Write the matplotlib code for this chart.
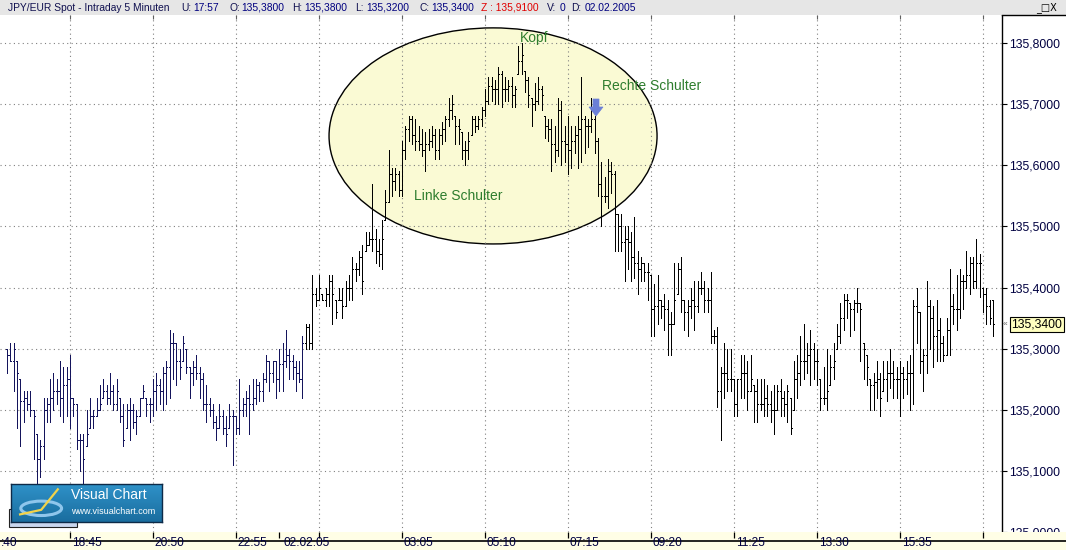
"""
JPY/EUR Spot, Intraday 5 Minuten (01./02.02.2005) - Kopf-Schulter-Formation
Nachbau des Visual-Chart-Screenshots mit Matplotlib
"""

import numpy as np
import matplotlib
matplotlib.use('Agg')
import matplotlib.pyplot as plt
from matplotlib.collections import LineCollection
from matplotlib.patches import Rectangle, Ellipse, Polygon
from matplotlib import transforms

plt.rcParams['font.family'] = ['Liberation Sans', 'DejaVu Sans']

# ---------------------------------------------------------------- data
first_bar = '17:10'          # erster Balken am 01.02.2005
bar_minutes = 5

highs = [
    135.30, 135.31, 135.31, 135.28, 135.25, 135.23, 135.23, 135.23, 135.20, 135.16,
    135.15, 135.22, 135.22, 135.25, 135.26, 135.25, 135.28, 135.27, 135.27, 135.29,
    135.22, 135.21, 135.16, 135.16, 135.20, 135.22, 135.20, 135.22, 135.24, 135.25,
    135.24, 135.26, 135.24, 135.25, 135.22, 135.21, 135.21, 135.22, 135.21,
    135.20, 135.22, 135.24, 135.22, 135.22, 135.25, 135.26, 135.25, 135.27, 135.28,
    135.33, 135.325, 135.31, 135.30, 135.32, 135.30, 135.27, 135.28, 135.29, 135.27,
    135.26, 135.24, 135.22, 135.21, 135.19, 135.21, 135.20, 135.19, 135.21, 135.20,
    135.19, 135.25, 135.22, 135.23, 135.24, 135.25, 135.25,
    135.245, 135.26, 135.29, 135.28, 135.28, 135.28, 135.30, 135.31, 135.33, 135.30,
    135.29, 135.28, 135.28, 135.32, 135.34, 135.34, 135.42, 135.40, 135.42, 135.39,
    135.40, 135.42, 135.42, 135.38, 135.40, 135.40, 135.41, 135.42, 135.45, 135.44,
    135.46, 135.47, 135.49, 135.49, 135.57, 135.495, 135.48, 135.51,
    135.56, 135.625, 135.595, 135.595, 135.59, 135.64, 135.665, 135.68, 135.68, 135.675,
    135.665, 135.66, 135.655, 135.66, 135.665, 135.66, 135.66, 135.67, 135.68, 135.71,
    135.715, 135.68, 135.675, 135.655, 135.64, 135.655, 135.68, 135.68, 135.68, 135.695,
    135.725, 135.745, 135.745, 135.74, 135.76, 135.755,
    135.745, 135.74, 135.745, 135.73, 135.795, 135.80, 135.755, 135.745, 135.71, 135.735,
    135.745, 135.73, 135.68, 135.675, 135.675, 135.665, 135.71, 135.705, 135.665, 135.68,
    135.665, 135.665, 135.68, 135.745, 135.68, 135.675, 135.71, 135.68, 135.645, 135.605,
    135.58, 135.61, 135.605, 135.59, 135.52,
    135.52, 135.50, 135.50, 135.49, 135.515, 135.46, 135.45, 135.44, 135.44, 135.42,
    135.405, 135.42, 135.38, 135.39, 135.38, 135.36, 135.44, 135.44, 135.45, 135.38,
    135.38, 135.40, 135.41, 135.41, 135.425, 135.41, 135.40, 135.425, 135.33, 135.335,
    135.27, 135.31, 135.30, 135.30, 135.25, 135.25, 135.29, 135.29, 135.28, 135.29,
    135.24, 135.25, 135.25, 135.25, 135.24, 135.23, 135.24, 135.24, 135.25, 135.23,
    135.24, 135.22, 135.28, 135.29, 135.32, 135.34, 135.31, 135.33, 135.31, 135.30,
    135.25, 135.27, 135.30, 135.29, 135.31, 135.34, 135.375, 135.39, 135.39, 135.375,
    135.38, 135.40, 135.375, 135.31, 135.29, 135.25,
    135.26, 135.28, 135.26, 135.28, 135.28, 135.30, 135.28, 135.27, 135.28, 135.27,
    135.28, 135.29, 135.38, 135.40, 135.36, 135.30, 135.41, 135.38, 135.37, 135.38,
    135.35, 135.32, 135.35, 135.43, 135.39, 135.42, 135.43, 135.42, 135.46, 135.45,
    135.45, 135.48, 135.455, 135.40, 135.40, 135.38, 135.38,
]

lows = [
    135.26, 135.28, 135.23, 135.17, 135.14, 135.18, 135.20, 135.19, 135.12, 135.08,
    135.09, 135.12, 135.18, 135.18, 135.20, 135.21, 135.19, 135.18, 135.19, 135.17,
    135.19, 135.135, 135.10, 135.08, 135.14, 135.17, 135.17, 135.19, 135.20, 135.22,
    135.21, 135.21, 135.20, 135.20, 135.18, 135.14, 135.17, 135.15, 135.17,
    135.16, 135.19, 135.22, 135.19, 135.18, 135.19, 135.20, 135.21, 135.20, 135.21,
    135.22, 135.25, 135.24, 135.25, 135.28, 135.26, 135.22, 135.24, 135.25, 135.22,
    135.20, 135.18, 135.19, 135.17, 135.15, 135.17, 135.16, 135.14, 135.17, 135.11,
    135.16, 135.16, 135.19, 135.19, 135.16, 135.20, 135.21,
    135.215, 135.215, 135.245, 135.23, 135.245, 135.22, 135.23, 135.23, 135.27, 135.25,
    135.25, 135.23, 135.245, 135.22, 135.30, 135.30, 135.30, 135.37, 135.38, 135.38,
    135.37, 135.37, 135.34, 135.35, 135.38, 135.35, 135.37, 135.38, 135.38, 135.41,
    135.42, 135.39, 135.46, 135.47, 135.46, 135.44, 135.435, 135.43,
    135.51, 135.54, 135.55, 135.56, 135.55, 135.55, 135.61, 135.64, 135.635, 135.625,
    135.625, 135.615, 135.59, 135.625, 135.63, 135.61, 135.61, 135.635, 135.64, 135.665,
    135.675, 135.635, 135.635, 135.61, 135.60, 135.61, 135.65, 135.655, 135.66, 135.665,
    135.68, 135.70, 135.705, 135.70, 135.70, 135.695,
    135.705, 135.705, 135.695, 135.695, 135.75, 135.75, 135.72, 135.695, 135.665, 135.69,
    135.70, 135.69, 135.645, 135.64, 135.59, 135.605, 135.615, 135.60, 135.605, 135.585,
    135.595, 135.62, 135.595, 135.605, 135.62, 135.63, 135.655, 135.62, 135.55, 135.50,
    135.54, 135.53, 135.555, 135.46, 135.46,
    135.46, 135.41, 135.43, 135.41, 135.415, 135.39, 135.41, 135.41, 135.38, 135.32,
    135.32, 135.34, 135.35, 135.33, 135.29, 135.29, 135.34, 135.39, 135.36, 135.33,
    135.32, 135.35, 135.33, 135.36, 135.39, 135.36, 135.36, 135.31, 135.31, 135.205,
    135.15, 135.22, 135.23, 135.23, 135.19, 135.19, 135.22, 135.22, 135.20, 135.23,
    135.18, 135.18, 135.20, 135.19, 135.19, 135.18, 135.16, 135.20, 135.19, 135.19,
    135.18, 135.16, 135.20, 135.22, 135.24, 135.25, 135.26, 135.24, 135.25, 135.24,
    135.20, 135.21, 135.20, 135.24, 135.25, 135.30, 135.31, 135.33, 135.35, 135.32,
    135.33, 135.36, 135.28, 135.25, 135.24, 135.20,
    135.20, 135.22, 135.19, 135.23, 135.215, 135.235, 135.22, 135.22, 135.19, 135.22,
    135.225, 135.20, 135.21, 135.31, 135.26, 135.23, 135.26, 135.30, 135.27, 135.28,
    135.28, 135.28, 135.29, 135.29, 135.34, 135.33, 135.35, 135.365, 135.40, 135.39,
    135.40, 135.40, 135.385, 135.36, 135.34, 135.34, 135.32,
]

opens = [
    135.30, 135.29, 135.28, 135.30, 135.26, 135.215, 135.22, 135.21, 135.20, 135.19,
    135.12, 135.14, 135.20, 135.21, 135.22, 135.23, 135.23, 135.22, 135.24, 135.25,
    135.22, 135.21, 135.15, 135.15, 135.12, 135.16, 135.19, 135.19, 135.20, 135.21,
    135.23, 135.22, 135.23, 135.21, 135.23, 135.19, 135.15, 135.20, 135.20,
    135.18, 135.19, 135.22, 135.23, 135.21, 135.21, 135.23, 135.24, 135.23, 135.26,
    135.27, 135.31, 135.31, 135.28, 135.27, 135.31, 135.27, 135.26, 135.27, 135.26,
    135.25, 135.21, 135.21, 135.20, 135.18, 135.17, 135.19, 135.17, 135.16, 135.19,
    135.19, 135.17, 135.20, 135.21, 135.22, 135.21, 135.22,
    135.24, 135.23, 135.25, 135.28, 135.26, 135.28, 135.25, 135.275, 135.28, 135.29,
    135.28, 135.27, 135.26, 135.25, 135.31, 135.335, 135.31, 135.39, 135.38, 135.40,
    135.38, 135.39, 135.41, 135.39, 135.36, 135.38, 135.37, 135.40, 135.40, 135.43,
    135.43, 135.45, 135.41, 135.47, 135.48, 135.48, 135.46, 135.455,
    135.48, 135.54, 135.585, 135.575, 135.585, 135.56, 135.625, 135.66, 135.675, 135.65,
    135.64, 135.635, 135.625, 135.635, 135.64, 135.65, 135.625, 135.65, 135.66, 135.675,
    135.69, 135.70, 135.665, 135.66, 135.625, 135.625, 135.64, 135.675, 135.665, 135.675,
    135.69, 135.705, 135.73, 135.725, 135.725, 135.75,
    135.725, 135.725, 135.73, 135.715, 135.725, 135.77, 135.78, 135.74, 135.715, 135.70,
    135.705, 135.725, 135.715, 135.665, 135.66, 135.635, 135.625, 135.69, 135.64, 135.635,
    135.625, 135.64, 135.65, 135.66, 135.675, 135.665, 135.665, 135.675, 135.64, 135.57,
    135.55, 135.55, 135.59, 135.585, 135.52,
    135.50, 135.475, 135.48, 135.475, 135.45, 135.44, 135.43, 135.44, 135.425, 135.425,
    135.365, 135.37, 135.38, 135.37, 135.365, 135.34, 135.34, 135.38, 135.43, 135.38,
    135.36, 135.37, 135.38, 135.37, 135.40, 135.40, 135.38, 135.38, 135.32, 135.32,
    135.23, 135.26, 135.26, 135.25, 135.25, 135.21, 135.25, 135.26, 135.26, 135.23,
    135.25, 135.23, 135.21, 135.21, 135.22, 135.21, 135.20, 135.20, 135.23, 135.22,
    135.21, 135.23, 135.17, 135.25, 135.26, 135.28, 135.28, 135.29, 135.30, 135.28,
    135.28, 135.22, 135.22, 135.23, 135.27, 135.28, 135.32, 135.35, 135.38, 135.38,
    135.365, 135.375, 135.375, 135.365, 135.30, 135.27,
    135.24, 135.245, 135.25, 135.22, 135.25, 135.26, 135.26, 135.25, 135.25, 135.26,
    135.25, 135.26, 135.26, 135.37, 135.36, 135.28, 135.29, 135.37, 135.35, 135.32,
    135.33, 135.31, 135.29, 135.33, 135.37, 135.365, 135.365, 135.41, 135.41, 135.42,
    135.44, 135.41, 135.44, 135.44, 135.39, 135.37, 135.38,
]

closes = [
    135.29, 135.28, 135.30, 135.26, 135.215, 135.22, 135.21, 135.20, 135.19, 135.12,
    135.14, 135.20, 135.21, 135.22, 135.23, 135.23, 135.22, 135.24, 135.25, 135.22,
    135.21, 135.15, 135.15, 135.12, 135.16, 135.19, 135.19, 135.20, 135.21, 135.23,
    135.22, 135.23, 135.21, 135.23, 135.19, 135.15, 135.20, 135.20, 135.18,
    135.19, 135.22, 135.23, 135.21, 135.21, 135.23, 135.24, 135.23, 135.26, 135.27,
    135.31, 135.31, 135.28, 135.27, 135.31, 135.27, 135.26, 135.27, 135.26, 135.25,
    135.21, 135.21, 135.20, 135.18, 135.17, 135.19, 135.17, 135.16, 135.19, 135.19,
    135.17, 135.20, 135.21, 135.22, 135.21, 135.22, 135.24,
    135.23, 135.25, 135.28, 135.26, 135.28, 135.25, 135.275, 135.28, 135.29, 135.28,
    135.27, 135.26, 135.25, 135.31, 135.335, 135.31, 135.39, 135.38, 135.40, 135.38,
    135.39, 135.41, 135.39, 135.36, 135.38, 135.37, 135.40, 135.40, 135.43, 135.43,
    135.45, 135.41, 135.47, 135.48, 135.48, 135.46, 135.455, 135.48,
    135.54, 135.585, 135.575, 135.585, 135.56, 135.625, 135.66, 135.675, 135.65, 135.64,
    135.635, 135.625, 135.635, 135.64, 135.65, 135.625, 135.65, 135.66, 135.675, 135.69,
    135.70, 135.665, 135.66, 135.625, 135.625, 135.64, 135.675, 135.665, 135.675, 135.69,
    135.705, 135.73, 135.725, 135.725, 135.75, 135.725,
    135.725, 135.73, 135.715, 135.725, 135.77, 135.78, 135.74, 135.715, 135.70, 135.705,
    135.725, 135.715, 135.665, 135.66, 135.635, 135.625, 135.69, 135.64, 135.635, 135.625,
    135.64, 135.65, 135.66, 135.675, 135.665, 135.665, 135.675, 135.64, 135.57, 135.55,
    135.55, 135.59, 135.585, 135.52, 135.50,
    135.475, 135.48, 135.475, 135.45, 135.44, 135.43, 135.44, 135.425, 135.425, 135.365,
    135.37, 135.38, 135.37, 135.365, 135.34, 135.34, 135.38, 135.43, 135.38, 135.36,
    135.37, 135.38, 135.37, 135.40, 135.40, 135.38, 135.38, 135.32, 135.32, 135.23,
    135.26, 135.26, 135.25, 135.25, 135.21, 135.25, 135.26, 135.26, 135.23, 135.25,
    135.23, 135.21, 135.21, 135.22, 135.21, 135.20, 135.20, 135.23, 135.22, 135.21,
    135.23, 135.17, 135.25, 135.26, 135.28, 135.28, 135.29, 135.30, 135.28, 135.28,
    135.22, 135.22, 135.23, 135.27, 135.28, 135.32, 135.35, 135.38, 135.38, 135.365,
    135.375, 135.375, 135.365, 135.30, 135.27, 135.24,
    135.245, 135.25, 135.22, 135.25, 135.26, 135.26, 135.25, 135.25, 135.26, 135.25,
    135.26, 135.26, 135.37, 135.36, 135.28, 135.29, 135.37, 135.35, 135.32, 135.33,
    135.31, 135.29, 135.33, 135.37, 135.365, 135.365, 135.41, 135.41, 135.42, 135.44,
    135.41, 135.44, 135.44, 135.39, 135.37, 135.35, 135.34,
]

# Zeitachse: (Tag, Uhrzeit), Tag 0 = 01.02.2005, Tag 1 = 02.02.2005
grid_times = [(0, '16:40'), (0, '18:45'), (0, '20:50'), (0, '22:55'), (1, '01:00'),
              (1, '03:05'), (1, '05:10'), (1, '07:15'), (1, '09:20'), (1, '11:25'),
              (1, '13:30'), (1, '15:35'), (1, '17:40')]
label_times = [(0, '18:45'), (0, '20:50'), (0, '22:55'),
               (1, '03:05'), (1, '05:10'), (1, '07:15'), (1, '09:20'), (1, '11:25'),
               (1, '13:30'), (1, '15:35')]
cut_label = ':40'            # Rest von "16:40" am linken Rand
date_mark = (1, '00:00')
date_label = '02.02.05'

price_ticks = [135.0, 135.1, 135.2, 135.3, 135.4, 135.5, 135.6, 135.7, 135.8]
last_price = 135.34

header = [
    ('JPY/EUR Spot - Intraday 5 Minuten', 8, '#101050'),
    ('U:', 181, '#101050'), ('17:57', 193, '#000080'),
    ('O:', 229, '#101050'), ('135,3800', 241, '#000080'),
    ('H:', 292, '#101050'), ('135,3800', 304, '#000080'),
    ('L:', 355, '#101050'), ('135,3200', 366, '#000080'),
    ('C:', 419, '#101050'), ('135,3400', 431, '#000080'),
    ('Z : 135,9100', 481, '#e00000'),
    ('V:', 547, '#101050'), ('0', 560, '#000080'),
    ('D:', 571, '#101050'), ('02.02.2005', 585, '#000080'),
]

# ---------------------------------------------------------------- layout
W, H = 1066, 550
PLOT_RIGHT, PLOT_TOP, PLOT_BOTTOM = 1002, 15, 532
X0_PX, STEP_PX = 7, 3.32            # erster Balken / Balkenabstand in Pixeln
NAVY_UNTIL = 90                     # aeltere Balken dunkelblau


def bar_index(day, hhmm):
    h, m = map(int, hhmm.split(':'))
    h0, m0 = map(int, first_bar.split(':'))
    return (day * 1440 + h * 60 + m - (h0 * 60 + m0)) / bar_minutes


def fig_rect(x0, y0, x1, y1, **kw):
    return Rectangle((x0 / W, 1 - y1 / H), (x1 - x0) / W, (y1 - y0) / H,
                     transform=fig.transFigure, **kw)


fig = plt.figure(figsize=(W / 100, H / 100), dpi=100, facecolor='white')

ax = fig.add_axes([0, 1 - PLOT_BOTTOM / H, PLOT_RIGHT / W, (PLOT_BOTTOM - PLOT_TOP) / H])
ax.set_facecolor('white')
ax.set_xlim(-X0_PX / STEP_PX, (PLOT_RIGHT - X0_PX) / STEP_PX)
ax.set_ylim(135.0, 135.8 + (43 - PLOT_TOP) / 611)

# Gitter (gepunktet)
dot = dict(color='#808080', lw=0.8, linestyle=(0, (1, 3)), zorder=1)
for p in price_ticks[1:]:
    ax.axhline(p, **dot)
grid_idx = [bar_index(d, t) for d, t in grid_times]
for gi in grid_idx:
    ax.axvline(gi, **dot)
top_tr = transforms.blended_transform_factory(ax.transData, ax.transAxes)
ax.vlines(grid_idx, 1 - 4 / 517, 1, transform=top_tr, color='#606060', lw=0.8, zorder=1)

# Ellipse um die Formation
ax.add_patch(Ellipse((146.4, 135.648), 98.8, 0.3535, facecolor='#fafad4',
                     edgecolor='black', lw=1.0, zorder=0.5))

# OHLC-Balken
hi, lo = np.array(highs), np.array(lows)
op = np.clip(opens, lo, hi)
cl = np.clip(closes, lo, hi)
idx = np.arange(len(hi))
tick = 0.3
segs, cols = [], []
for i in idx:
    c = '#14145c' if i < NAVY_UNTIL else 'black'
    segs += [[(i, lo[i]), (i, hi[i])],
             [(i - tick, op[i]), (i, op[i])],
             [(i, cl[i]), (i + tick, cl[i])]]
    cols += [c, c, c]
ax.add_collection(LineCollection(segs, colors=cols, linewidths=0.6,
                                 antialiaseds=False, zorder=3))

# Beschriftung der Formation
green = '#2e7d2e'
ax.text(154.5, 135.808, 'Kopf', color=green, fontsize=10, va='center', zorder=4)
ax.text(179.2, 135.730, 'Rechte Schulter', color=green, fontsize=10, va='center', zorder=4)
ax.text(122.6, 135.550, 'Linke Schulter', color=green, fontsize=10, va='center', zorder=4)

# Preisachse rechts
ax.yaxis.tick_right()
ax.set_yticks(price_ticks)
ax.set_yticklabels([f'{p:.4f}'.replace('.', ',') for p in price_ticks])
ax.tick_params(axis='y', direction='out', length=3.6, width=0.8, pad=1.5,
               labelsize=8.8, colors='black')
ax.tick_params(axis='y', labelcolor='#000040')
ax.set_xticks([])
for s in ['top', 'left', 'bottom']:
    ax.spines[s].set_visible(False)
ax.spines['right'].set_linewidth(1.0)

# aktueller Kurs
both = transforms.blended_transform_factory(fig.transFigure, ax.transData)
fig.text(1037 / W, last_price, f'{last_price:.4f}'.replace('.', ','), transform=both,
         ha='center', va='center', fontsize=8.8, color='black', zorder=6,
         bbox=dict(boxstyle='square,pad=0.12', fc='#ffffc0', ec='black', lw=0.8))
fig.text(1005 / W, last_price, '«', transform=both, ha='center', va='center',
         fontsize=6, color='#606060', zorder=6)

# Zeitachse unten
bax = fig.add_axes([0, 0, 1, (H - PLOT_BOTTOM) / H], zorder=2)
bax.set_facecolor('#fffee6')
bax.set_xticks([]), bax.set_yticks([])
for s in bax.spines.values():
    s.set_visible(False)
bot_tr = transforms.blended_transform_factory(ax.transData, bax.transAxes)
lab_y = 0.38
for d, t in label_times:
    bax.text(bar_index(d, t) + 0.5, lab_y, t, transform=bot_tr, ha='left', va='center',
             fontsize=8.6, color='#000040')
bax.text(1 / W, lab_y, cut_label, transform=bax.transAxes, ha='left', va='center',
         fontsize=8.6, color='#000040')
bax.text(bar_index(*date_mark) + 1.2, lab_y, date_label, transform=bot_tr, ha='left',
         va='center', fontsize=8.6, color='#000040')
bax.vlines([bar_index(d, t) for d, t in grid_times] + [bar_index(*date_mark)],
           1 - 6 / 18, 1, transform=bot_tr, color='black', lw=0.9)
bax.axhline(1, color='black', lw=1.2)

# Kopfzeile
hax = fig.add_axes([0, 1 - PLOT_TOP / H, 1, PLOT_TOP / H], zorder=2)
hax.set_facecolor('#e6e6e6')
hax.set_xticks([]), hax.set_yticks([])
for s in hax.spines.values():
    s.set_visible(False)
for txt, x, c in header:
    fig.text(x / W, 1 - 8 / H, txt, ha='left', va='center', fontsize=7.4, color=c, zorder=6)
fig.text(1046 / W, 1 - 8 / H, '_□X', ha='center', va='center', fontsize=7,
         color='black', family='DejaVu Sans', zorder=6)
fig.add_artist(plt.Line2D([PLOT_RIGHT / W, 1], [1 - PLOT_TOP / H] * 2, color='black',
                          lw=1.0, transform=fig.transFigure, zorder=6))

# blauer Pfeil ueber der rechten Schulter
arrow_px = [(593, 99), (599, 99), (599, 107), (603, 107), (596, 116), (589, 107), (593, 107)]
fig.add_artist(Polygon([(x / W, 1 - y / H) for x, y in arrow_px], closed=True,
                       transform=fig.transFigure, fc='#6b7fd6', ec='#6b7fd6',
                       lw=0.5, zorder=6))

# Visual-Chart-Logo
fig.add_artist(fig_rect(9, 509, 77, 527, fc='#c9d6ee', ec='#222222', lw=0.8, zorder=4))
lax = fig.add_axes([11 / W, 1 - 522 / H, 151 / W, 38 / H], zorder=5)
grad = np.linspace(0, 1, 50).reshape(-1, 1)
lax.imshow(grad, cmap=matplotlib.colors.LinearSegmentedColormap.from_list(
    'vc', ['#2f92c8', '#1a6d9f']), aspect='auto', extent=(0, 1, 0, 1), origin='upper')
lax.set_xlim(0, 1), lax.set_ylim(0, 1)
lax.set_xticks([]), lax.set_yticks([])
for s in lax.spines.values():
    s.set_color('#0d2a48')
    s.set_linewidth(1.0)
lax.add_patch(Ellipse((0.2, 0.36), 0.27, 0.38, fc='none', ec='#8fc6ec', lw=2.2))
lax.plot([0.06, 0.2, 0.31], [0.2, 0.32, 0.86], color='#f2d34a', lw=1.6)
lax.text(0.4, 0.70, 'Visual Chart', color='white', fontsize=10, va='center', ha='left')
lax.text(0.4, 0.27, 'www.visualchart.com', color='white', fontsize=6.5, va='center', ha='left')

fig.savefig('out.png', dpi=100)
